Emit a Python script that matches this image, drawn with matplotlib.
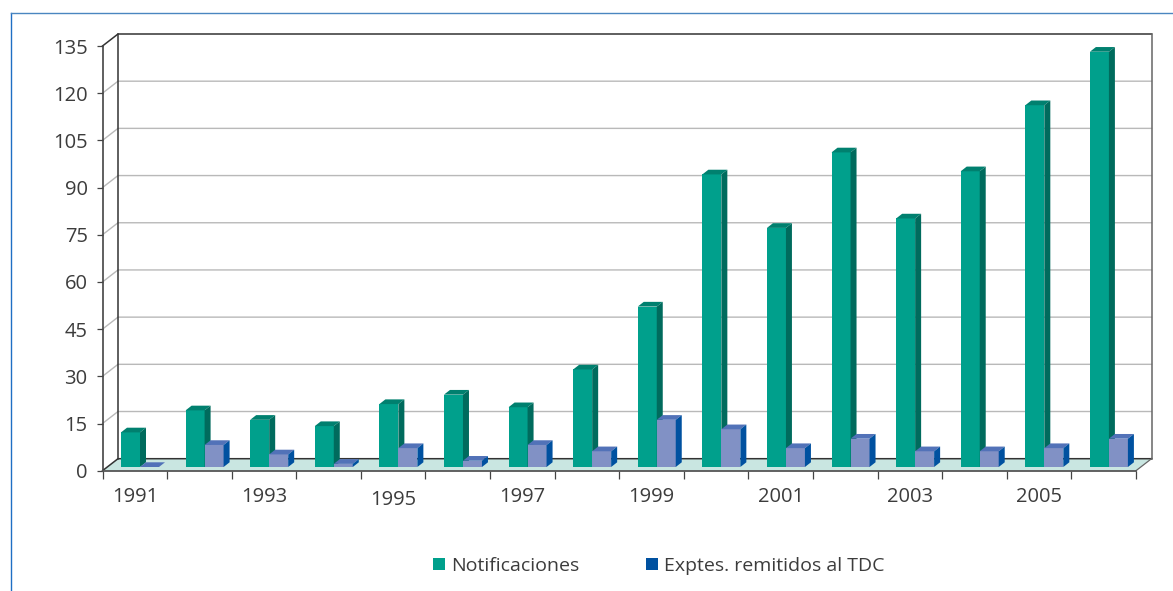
import matplotlib
matplotlib.use("Agg")
import matplotlib.pyplot as plt
from matplotlib.patches import Patch, Polygon
from matplotlib.lines import Line2D

plt.rcParams['font.family'] = ['Open Sans', 'DejaVu Sans']

years = [1991, 1992, 1993, 1994, 1995, 1996, 1997, 1998,
         1999, 2000, 2001, 2002, 2003, 2004, 2005, 2006]
notificaciones = [11, 18, 15, 13, 20, 23, 19, 31, 51, 93, 76, 100, 79, 94, 115, 132]
remitidos = [0, 7, 4, 1, 6, 2, 7, 5, 15, 12, 6, 9, 5, 5, 6, 9]
y_ticks = [0, 15, 30, 45, 60, 75, 90, 105, 120, 135]
label_years = [1991, 1993, 1995, 1997, 1999, 2001, 2003, 2005]

W, H = 1173, 591
TEXT = '#3c3c3c'

# colores: frente, arriba, lado
GREEN = ('#00a08c', '#00806f', '#006b5d')
BLUE = ('#8191c5', '#5272b8', '#0051a0')

fig = plt.figure(figsize=(W / 100, H / 100), dpi=100)

# el plano frontal del grafico
left, right, top, bottom = 102.5, 1136, 46, 470.7
ax = fig.add_axes([left / W, 1 - bottom / H, (right - left) / W, (bottom - top) / H])
ax.set_xlim(0, len(years))
ax.set_ylim(0, 135)
ax.patch.set_visible(False)
for s in ax.spines.values():
    s.set_visible(False)

# pixeles a unidades de datos
px_x = len(years) / (right - left)
px_y = 135 / (bottom - top)

wall_dx, wall_dy = 15.5 * px_x, 12 * px_y      # fondo del grafico
bar_dx, bar_dy = 6 * px_x, 4.7 * px_y          # profundidad de cada barra
base_x, base_y = 18.5 * px_x, 3.7 * px_y       # donde empieza la barra
bar_w = 19 * px_x
n = len(years)


def line(xs, ys, color, lw=1.1, z=2):
    ax.add_line(Line2D(xs, ys, color=color, lw=lw, zorder=z, clip_on=False))


def draw_bar(x, val, colors, z):
    y0 = base_y
    y1 = base_y + val
    ax.bar(x, val, bar_w, bottom=y0, align='edge', color=colors[0], zorder=z, clip_on=False)
    ax.add_patch(Polygon([(x, y1), (x + bar_w, y1), (x + bar_w + bar_dx, y1 + bar_dy),
                          (x + bar_dx, y1 + bar_dy)],
                         facecolor=colors[1], edgecolor='none', zorder=z, clip_on=False))
    ax.add_patch(Polygon([(x + bar_w, y0), (x + bar_w + bar_dx, y0 + bar_dy),
                          (x + bar_w + bar_dx, y1 + bar_dy), (x + bar_w, y1)],
                         facecolor=colors[2], edgecolor='none', zorder=z, clip_on=False))


# suelo
ax.add_patch(Polygon([(0, 0), (n, 0), (n + wall_dx, wall_dy), (wall_dx, wall_dy)],
                     facecolor='#c9e6e1', edgecolor='none', zorder=1, clip_on=False))

# lineas de la rejilla
for v in y_ticks[1:-1]:
    line([0, wall_dx, n + wall_dx], [v, v + wall_dy, v + wall_dy], '#b9b9b9', 1.0, 1)

# paredes
line([wall_dx, wall_dx], [wall_dy, 135 + wall_dy], '#333333')
line([0, wall_dx, n + wall_dx], [135, 135 + wall_dy, 135 + wall_dy], '#333333')
line([n + wall_dx, n + wall_dx], [wall_dy, 135 + wall_dy], '#666666')
line([0, wall_dx, n + wall_dx], [0, wall_dy, wall_dy], '#333333')
line([n, n + wall_dx], [0, wall_dy], '#666666', 0.9)

# barras
for i in range(n):
    x = i + base_x
    draw_bar(x, notificaciones[i], GREEN, 3 + i * 0.01)
    draw_bar(x + bar_w, remitidos[i], BLUE, 3.005 + i * 0.01)

# ejes frontales
line([0, 0], [0, 135], '#444444', 1.2, 4)
line([0, n], [0, 0], '#555555', 1.3, 4)

ax.set_yticks(y_ticks)
ax.set_xticks(range(n + 1))
ax.set_xticklabels([])
ax.tick_params(axis='y', length=6.5 * 0.72, width=0.9, color='#444444',
               labelsize=14.5, labelcolor=TEXT, pad=6)
ax.tick_params(axis='x', length=7.5 * 0.72, width=0.9, color='#444444')

for yr in label_years:
    i = years.index(yr)
    # en el original 1995 queda un poco mas bajo
    yy = 500 if yr == 1995 else 496.5
    ax.annotate(str(yr), xy=(i + 0.5, 0), xycoords=ax.get_xaxis_transform(),
                xytext=(0, -(yy - bottom) * 0.72), textcoords='offset points',
                ha='center', va='center', fontsize=14.5, color=TEXT, annotation_clip=False)

# marco azul de la pagina
fig.add_artist(Line2D([10.5 / W, 10.5 / W], [0, 1 - 12.5 / H], color='#1f6fc4', lw=1.0))
fig.add_artist(Line2D([10.5 / W, 1], [1 - 12.5 / H, 1 - 12.5 / H], color='#4a86c0', lw=1.0))

# leyenda
handles = [Patch(facecolor=GREEN[0], label='Notificaciones'),
           Patch(facecolor=BLUE[2], label='Exptes. remitidos al TDC')]
fig.legend(handles=handles, ncol=2, frameon=False, fontsize=14,
           loc='center left', bbox_to_anchor=(417 / W, 1 - 566 / H),
           handlelength=0.62, handleheight=0.62, handletextpad=0.34,
           columnspacing=3.4, labelcolor=TEXT, borderpad=0.3)

fig.savefig('out.png', dpi=100, facecolor='white')
